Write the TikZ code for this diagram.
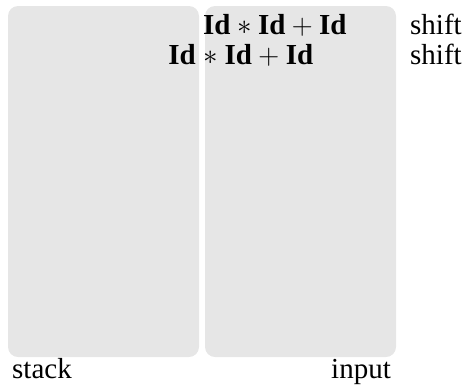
\documentclass[tikz,border=0pt]{standalone}
\usepackage{fix-cm}
\usepackage{fontspec}
\setmainfont{Liberation Serif}
\definecolor{boxgrey}{HTML}{E6E6E6}
\begin{document}
\begin{tikzpicture}[x=1pt,y=-1pt,
  panel/.style={fill=boxgrey,draw=none,rounded corners=10pt},
  txt/.style={inner sep=0pt,font=\fontsize{29}{35}\selectfont}]
\useasboundingbox (0,0) rectangle (466,384);
\path[panel] (8,6) rectangle (199,357);
\path[panel] (205,6) rectangle (396,357);
\node[txt,anchor=base west] (in1) at (203,34) {\textbf{Id}${}\ast{}$\textbf{Id}${}+{}$\textbf{Id}};
\node[txt,anchor=base west] (act1) at (410,34) {shift};
\node[txt,anchor=base east] (st2) at (196,64) {\textbf{Id}};
\node[txt,anchor=base west] (in2) at (197,64) {${}\ast{}$\textbf{Id}${}+{}$\textbf{Id}};
\node[txt,anchor=base west] (act2) at (410,64) {shift};
\node[txt,anchor=base west] (lstack) at (12,378) {stack};
\node[txt,anchor=base east] (linput) at (391,378) {input};
\end{tikzpicture}
\end{document}
